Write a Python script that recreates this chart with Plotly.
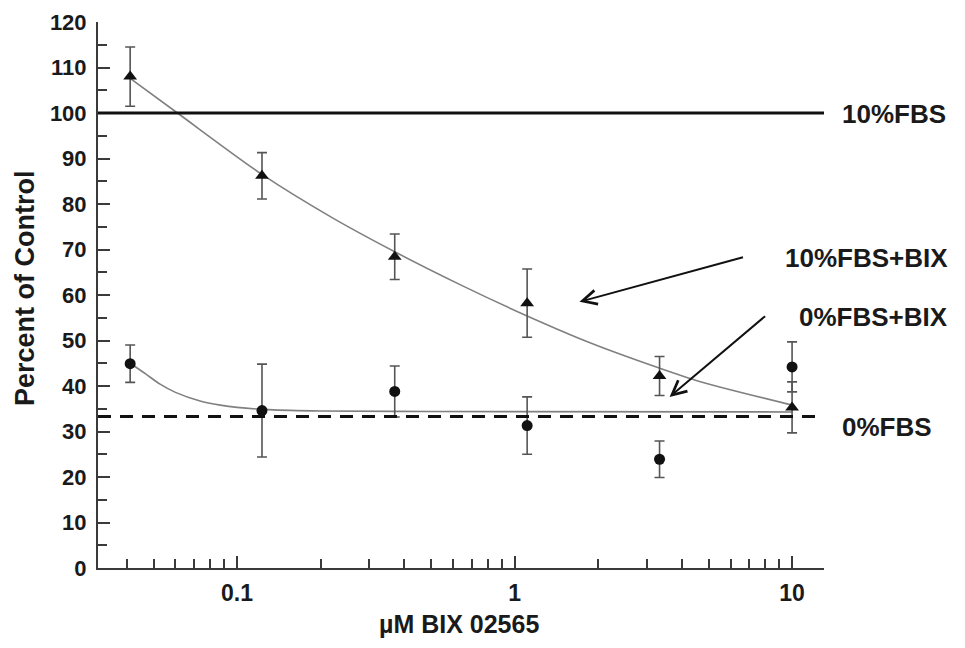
import plotly.graph_objects as go

# ---- data ----
conc = [0.0412, 0.123, 0.37, 1.11, 3.33, 10]
tri_mean = [108.0, 86.2, 68.4, 58.2, 42.2, 35.3]
tri_err = [6.5, 5.1, 5.0, 7.5, 4.3, 5.6]
dot_mean = [44.9, 34.6, 38.8, 31.3, 23.9, 44.2]
dot_err = [4.1, 10.2, 5.6, 6.3, 4.0, 5.5]

tri_fit_x = [0.0412, 0.061, 0.123, 0.22, 0.37, 0.65, 1.1, 1.87, 3.3, 4.64, 10]
tri_fit_y = [107.6, 100.0, 86.5, 77.0, 69.5, 62.0, 55.5, 49.5, 44.0, 41.0, 35.8]
dot_fit_x = [0.0412, 0.047, 0.0528, 0.06, 0.0736, 0.087, 0.1, 0.13, 0.2, 0.5, 10]
dot_fit_y = [45.0, 42.6, 40.4, 38.6, 36.7, 35.8, 35.3, 34.8, 34.5, 34.4, 34.3]

fbs10_level = 100
fbs0_level = 33.3

x_major = [0.1, 1, 10]
x_major_text = ["0.1", "1", "10"]
x_minor = [0.04, 0.05, 0.06, 0.07, 0.08, 0.09,
           0.2, 0.3, 0.4, 0.5, 0.6, 0.7, 0.8, 0.9,
           2, 3, 4, 5, 6, 7, 8, 9]
y_major = list(range(0, 121, 10))
y_minor = list(range(5, 120, 10))

FONT = "Liberation Sans, Arial, sans-serif"
TXT = "#1a1a1a"
AX = "#3a3a3a"

# page body has an 8px margin; figure sized so it fits the 965x648 window
OFF = 8
W, H = 965 - 2 * OFF, 648 - 2 * OFF
L, T = 98 - OFF, 22 - OFF
R = W - (824 - OFF)
B = H - (568 - OFF)
PW = W - L - R
PH = H - T - B


def px_x(p):
    return (p - OFF - L) / PW


def px_y(p):
    return (H - B - (p - OFF)) / PH


fig = go.Figure()

fig.add_trace(go.Scatter(x=tri_fit_x, y=tri_fit_y, mode="lines",
                         line=dict(color="#808080", width=1.6, shape="spline", smoothing=0.8),
                         hoverinfo="skip", showlegend=False))
fig.add_trace(go.Scatter(x=dot_fit_x, y=dot_fit_y, mode="lines",
                         line=dict(color="#808080", width=1.6, shape="spline", smoothing=0.8),
                         hoverinfo="skip", showlegend=False))

fig.add_trace(go.Scatter(x=conc, y=tri_mean, mode="markers",
                         marker=dict(symbol="triangle-up", size=12, color="#111"),
                         error_y=dict(type="data", array=tri_err, color="#555", thickness=1.6, width=5),
                         showlegend=False))
fig.add_trace(go.Scatter(x=conc, y=dot_mean, mode="markers",
                         marker=dict(symbol="circle", size=11, color="#111"),
                         error_y=dict(type="data", array=dot_err, color="#555", thickness=1.6, width=5),
                         showlegend=False))

# reference levels
fig.add_shape(type="line", xref="paper", x0=0, x1=1, yref="y", y0=fbs10_level, y1=fbs10_level,
              line=dict(color="#111", width=3))
fig.add_shape(type="line", xref="paper", x0=0, x1=1, yref="y", y0=fbs0_level, y1=fbs0_level,
              line=dict(color="#111", width=3, dash="13px,9px"))

lab_font = dict(family=FONT, size=26, color=TXT, weight="bold")
fig.add_annotation(text="10%FBS", xref="paper", x=px_x(840), yref="y", y=99.8,
                   showarrow=False, xanchor="left", yanchor="middle", font=lab_font)
fig.add_annotation(text="0%FBS", xref="paper", x=px_x(840), yref="y", y=31.0,
                   showarrow=False, xanchor="left", yanchor="middle", font=lab_font)
fig.add_annotation(text="10%FBS+BIX", xref="paper", x=px_x(950), yref="y", y=68.1,
                   showarrow=False, xanchor="right", yanchor="middle", font=lab_font)
fig.add_annotation(text="0%FBS+BIX", xref="paper", x=px_x(950), yref="y", y=55.2,
                   showarrow=False, xanchor="right", yanchor="middle", font=lab_font)

# axis titles
fig.add_annotation(text="Percent of Control", xref="paper", x=px_x(25), yref="paper", y=px_y(288),
                   showarrow=False, textangle=-90, xanchor="center", yanchor="middle",
                   font=dict(family=FONT, size=27, color=TXT, weight="bold"))
fig.add_annotation(text="µM BIX 02565", xref="paper", x=px_x(459), yref="paper", y=px_y(639),
                   showarrow=False, xanchor="center", yanchor="bottom", borderpad=0,
                   font=dict(family=FONT, size=25, color=TXT, weight="bold"))

# arrows (head at x,y; tail offset ax/ay in px)
fig.add_annotation(text="", x=0.234, y=58.5, xref="x", yref="y",
                   showarrow=True, arrowhead=5, arrowsize=1.4, arrowwidth=2, arrowcolor="#111",
                   ax=165, ay=-45)
fig.add_annotation(text="", x=0.5586, y=37.6, xref="x", yref="y",
                   showarrow=True, arrowhead=5, arrowsize=1.4, arrowwidth=2, arrowcolor="#111",
                   ax=97, ay=-82)

fig.update_xaxes(type="log", range=[-1.501, 1.115], automargin=False,
                 showline=True, linecolor=AX, linewidth=2, mirror=False,
                 showgrid=False, zeroline=False,
                 tickmode="array", tickvals=x_major, ticktext=x_major_text,
                 ticks="inside", ticklen=12, tickwidth=1.6, tickcolor=AX,
                 ticklabelstandoff=3,
                 minor=dict(tickmode="array", tickvals=x_minor, ticks="inside",
                            ticklen=9, tickwidth=1.6, tickcolor=AX, showgrid=False),
                 tickfont=dict(family=FONT, size=23, color=TXT, weight="bold"))
fig.update_yaxes(range=[0, 120], automargin=False,
                 showline=True, linecolor=AX, linewidth=2,
                 showgrid=False, zeroline=False,
                 tickmode="array", tickvals=y_major,
                 ticks="inside", ticklen=12, tickwidth=1.6, tickcolor=AX,
                 ticklabelstandoff=5,
                 minor=dict(tickmode="array", tickvals=y_minor, ticks="inside",
                            ticklen=9, tickwidth=1.6, tickcolor=AX, showgrid=False),
                 tickfont=dict(family=FONT, size=22, color=TXT, weight="bold"))

fig.update_layout(width=W, height=H,
                  margin=dict(l=L, r=R, t=T, b=B),
                  paper_bgcolor="white", plot_bgcolor="white",
                  showlegend=False)

fig.write_html("out.html")
